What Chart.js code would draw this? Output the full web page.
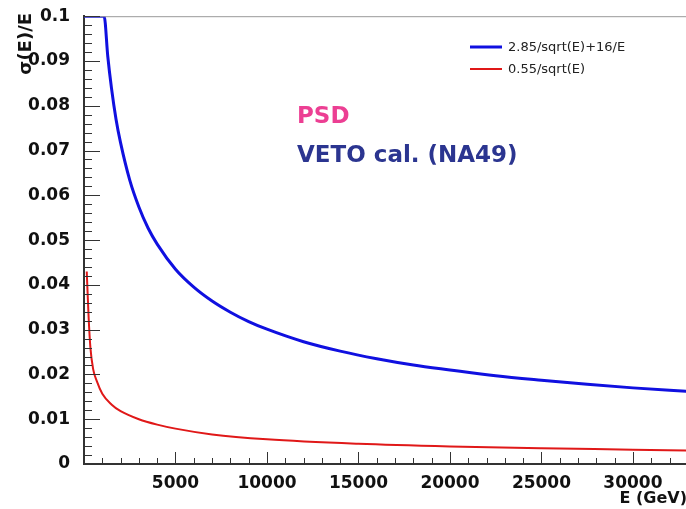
<!DOCTYPE html>
<html>
<script src="https://cdn.jsdelivr.net/npm/chart.js@4.4.1/dist/chart.umd.min.js"></script>
<body style="margin:0;background:#fff">

<canvas id="myChart" width="686" height="509"></canvas>

<script>

    // VETO calorimeter resolution, 2.85/sqrt(E)+16/E
    const energyVeto = [0, 600, 1100, 1300, 1500, 1750, 2000, 2500, 3000, 3500, 4000, 5000, 6000, 7000, 8000, 9000,
        10000, 12000, 14000, 16000, 18000, 20000, 22500, 25000, 27500, 30000, 33000];
    const sigmaVeto = [0.1, 0.1, 0.1, 0.091, 0.084, 0.077, 0.0717, 0.0634, 0.0574, 0.0527, 0.0491, 0.0435, 0.0395, 0.0364, 0.0339, 0.0318,
        0.0301, 0.0273, 0.0252, 0.0235, 0.0221, 0.021, 0.0197, 0.0187, 0.0178, 0.017, 0.0162];

    // PSD resolution, 0.55/sqrt(E)
    const energyPsd = [150, 250, 350, 500, 700, 1000, 1500, 2000, 3000, 4000, 5000, 7000, 10000, 15000, 20000, 25000, 30000, 33000];
    const sigmaPsd = [0.043, 0.033, 0.026, 0.0212, 0.0185, 0.0157, 0.0133, 0.0118, 0.01, 0.0088, 0.0079, 0.0066, 0.0055,
        0.0045, 0.0039, 0.0035, 0.0032, 0.003];

    const seriesLabels = ["2.85/sqrt(E)+16/E", "0.55/sqrt(E)"];
    const seriesColors = ["#1010e0", "#e01818"];
    const xTickLabels = ["5000", "10000", "15000", "20000", "25000", "30000"];
    const yTickLabels = ["0", "0.01", "0.02", "0.03", "0.04", "0.05", "0.06", "0.07", "0.08", "0.09", "0.1"];

    const tickFont = { family: "DejaVu Sans", size: 17, weight: "bold" };

    const toPoints = (xs, ys) => xs.map((x, i) => ({ x: x, y: ys[i] }));

    // axis ticks drawn inside the frame, plus legend and captions
    const frame = {
        id: "frame",
        afterDatasetsDraw(c) {
            const ctx = c.ctx;
            const a = c.chartArea;
            const xs = c.scales.x, ys = c.scales.y;
            ctx.save();
            ctx.strokeStyle = "#999";
            ctx.lineWidth = 1;
            ctx.beginPath();
            ctx.moveTo(a.left, a.top + 0.5);
            ctx.lineTo(a.right, a.top + 0.5);
            ctx.stroke();

            ctx.strokeStyle = "#333";
            ctx.lineWidth = 1;
            ctx.beginPath();
            for (let i = 0; i <= 50; i++) {
                const py = Math.round(ys.getPixelForValue(i * 0.002)) + 0.5;
                const len = i % 5 === 0 ? 16 : 8;
                ctx.moveTo(a.left, py);
                ctx.lineTo(a.left + len, py);
            }
            for (let i = 0; i <= 32; i++) {
                const px = Math.round(xs.getPixelForValue(i * 1000)) + 0.5;
                const len = i % 5 === 0 ? 12 : 6;
                ctx.moveTo(px, a.bottom);
                ctx.lineTo(px, a.bottom - len);
            }
            ctx.stroke();

            // legend
            ctx.font = "13px 'DejaVu Sans'";
            ctx.textBaseline = "middle";
            c.data.datasets.forEach((ds, i) => {
                const y = 47 + i * 22;
                ctx.strokeStyle = ds.borderColor;
                ctx.lineWidth = ds.borderWidth;
                ctx.beginPath();
                ctx.moveTo(470, y);
                ctx.lineTo(502, y);
                ctx.stroke();
                ctx.fillStyle = "#222";
                ctx.fillText(ds.label, 508, y + 1);
            });

            ctx.font = "bold 23px 'DejaVu Sans'";
            ctx.textBaseline = "alphabetic";
            ctx.fillStyle = "#ec3f93";
            ctx.fillText("PSD", 297, 123);
            ctx.fillStyle = "#2b3590";
            ctx.fillText("VETO cal. (NA49)", 297, 162);

            // axis titles
            ctx.fillStyle = "#111";
            ctx.font = "bold 16px 'DejaVu Sans'";
            ctx.textAlign = "right";
            ctx.fillText("E (GeV)", 687, 503);
            ctx.translate(31, 13);
            ctx.rotate(-Math.PI / 2);
            ctx.font = "bold 18px 'DejaVu Sans'";
            ctx.fillText("σ(E)/E", 0, 0);
            ctx.restore();
        }
    };

    const myChart = document.getElementById("myChart");
    const chart = new Chart(myChart, {
        type: "line",
        data: {
            datasets: [{
                label: seriesLabels[0],
                data: toPoints(energyVeto, sigmaVeto),
                borderColor: seriesColors[0],
                borderWidth: 3,
                pointRadius: 0,
                cubicInterpolationMode: "monotone"
            }, {
                label: seriesLabels[1],
                data: toPoints(energyPsd, sigmaPsd),
                borderColor: seriesColors[1],
                borderWidth: 2,
                pointRadius: 0,
                cubicInterpolationMode: "monotone"
            }]
        },
        options: {
            responsive: false,
            animation: false,
            layout: { padding: { top: 15, right: 0, left: 0, bottom: 0 } },
            plugins: {
                legend: { display: false },
                tooltip: { enabled: false }
            },
            scales: {
                x: {
                    type: "linear",
                    min: 0,
                    max: 32900,
                    grid: { display: false },
                    border: { display: true, color: "#333", width: 2 },
                    afterBuildTicks: s => { s.ticks = xTickLabels.map(t => ({ value: parseFloat(t) })); },
                    afterFit: s => { s.height = 45; },
                    ticks: {
                        font: tickFont,
                        color: "#111",
                        padding: 1,
                        maxRotation: 0,
                        callback: (v, i) => xTickLabels[i]
                    }
                },
                y: {
                    min: 0,
                    max: 0.1,
                    grid: { display: false },
                    border: { display: true, color: "#333", width: 2 },
                    afterBuildTicks: s => { s.ticks = yTickLabels.map(t => ({ value: parseFloat(t) })); },
                    afterFit: s => { s.width = 84; },
                    ticks: {
                        font: tickFont,
                        color: "#111",
                        padding: 6,
                        callback: (v, i) => yTickLabels[i]
                    }
                }
            }
        },
        plugins: [frame]
    });

</script>

</body>
</html>
